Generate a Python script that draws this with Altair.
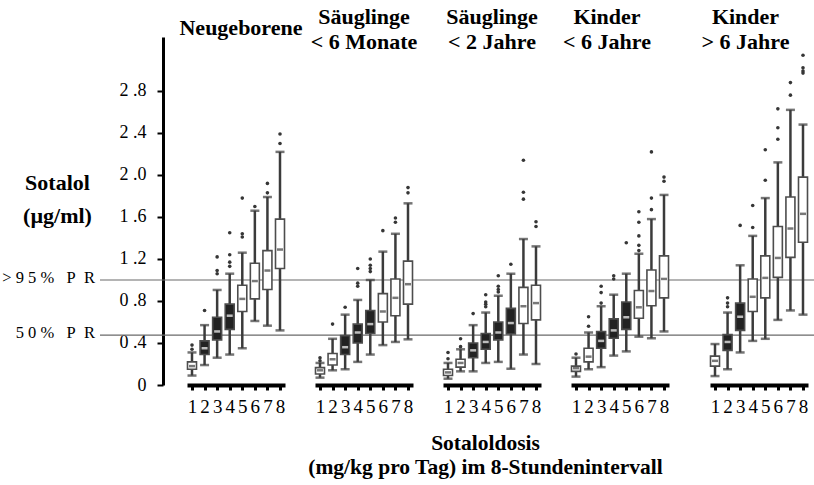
import altair as alt
import pandas as pd

# ---------------- data ----------------
group_titles = [["Neugeborene"], ["Säuglinge", "< 6 Monate"], ["Säuglinge", "< 2 Jahre"],
                ["Kinder", "< 6 Jahre"], ["Kinder", "> 6 Jahre"]]
doses = [1, 2, 3, 4, 5, 6, 7, 8]
y_ticks = [0, 0.4, 0.8, 1.2, 1.6, 2.0, 2.4, 2.8]
ref_values = [1.0, 0.475]
NB = "\u00a0"
ref_labels = [NB.join([">", "9", "5", "%"]) + NB * 3 + "P" + NB * 2 + "R",
              NB.join(["5", "0", "%"]) + NB * 3 + "P" + NB * 2 + "R"]

whisker_low = [
    [0.09, 0.19, 0.26, 0.29, 0.35, 0.61, 0.565, 0.52],
    [0.07, 0.14, 0.15, 0.22, 0.29, 0.38, 0.41, 0.435],
    [0.06, 0.13, 0.13, 0.21, 0.22, 0.155, 0.29, 0.20],
    [0.08, 0.15, 0.17, 0.28, 0.32, 0.46, 0.445, 0.51],
    [0.085, 0.15, 0.31, 0.42, 0.44, 0.62, 0.71, 0.67],
]
q1 = [
    [0.15, 0.29, 0.43, 0.53, 0.70, 0.82, 0.91, 1.11],
    [0.105, 0.19, 0.29, 0.40, 0.49, 0.60, 0.66, 0.77],
    [0.09, 0.17, 0.26, 0.34, 0.43, 0.485, 0.585, 0.62],
    [0.13, 0.22, 0.35, 0.445, 0.53, 0.635, 0.755, 0.83],
    [0.18, 0.33, 0.52, 0.70, 0.83, 1.025, 1.215, 1.36],
]
median = [
    [0.18, 0.35, 0.51, 0.66, 0.82, 0.99, 1.09, 1.29],
    [0.14, 0.245, 0.36, 0.50, 0.58, 0.70, 0.83, 0.96],
    [0.12, 0.21, 0.33, 0.41, 0.50, 0.59, 0.75, 0.78],
    [0.16, 0.27, 0.42, 0.52, 0.645, 0.74, 0.895, 1.01],
    [0.23, 0.41, 0.65, 0.84, 1.02, 1.21, 1.49, 1.63],
]
q3 = [
    [0.22, 0.42, 0.645, 0.77, 0.95, 1.16, 1.28, 1.58],
    [0.165, 0.30, 0.47, 0.58, 0.71, 0.87, 1.01, 1.18],
    [0.15, 0.245, 0.40, 0.49, 0.60, 0.73, 0.93, 0.95],
    [0.18, 0.35, 0.51, 0.63, 0.79, 0.90, 1.095, 1.23],
    [0.275, 0.48, 0.78, 1.01, 1.23, 1.51, 1.79, 1.98],
]
whisker_high = [
    [0.31, 0.57, 0.905, 1.06, 1.26, 1.66, 1.79, 2.22],
    [0.21, 0.44, 0.67, 0.81, 1.00, 1.27, 1.44, 1.73],
    [0.21, 0.34, 0.57, 0.69, 0.85, 1.06, 1.39, 1.32],
    [0.26, 0.50, 0.75, 0.86, 1.06, 1.25, 1.58, 1.81],
    [0.39, 0.69, 1.14, 1.42, 1.78, 2.12, 2.62, 2.48],
]
outliers = [
    [[0.34, 0.38], [0.71], [1.06, 1.09, 1.22], [1.13, 1.17, 1.24, 1.45], [1.41, 1.44, 1.78],
     [1.70], [1.83, 1.92], [2.30, 2.39]],
    [[0.23, 0.26], [0.58], [0.74], [0.94, 0.97, 1.11], [1.08, 1.11, 1.14, 1.20], [1.47],
     [1.55, 1.59], [1.83, 1.88]],
    [[0.25, 0.31], [0.365, 0.44], [0.68], [0.745, 0.77, 0.79, 0.86], [0.885, 0.91, 0.94, 1.04],
     [1.15], [1.77, 1.835, 2.14], [1.51, 1.555]],
    [[0.295], [0.56, 0.65], [0.78, 0.88, 0.94], [1.01, 1.04], [1.355],
     [1.28, 1.33, 1.42, 1.55, 1.65], [1.67, 1.78, 2.22], [1.94, 1.98]],
    [[], [0.745, 0.78, 0.83], [1.52], [1.50, 1.71], [1.95, 2.24], [2.34, 2.45, 2.63],
     [2.76, 2.88], [2.97, 2.99, 3.02, 3.14]],
]
dark_boxes = [[2, 3, 4], [3, 4, 5], [3, 4, 5, 6], [3, 4, 5], [2, 3]]

# ---------------- styling ----------------
SERIF = "Liberation Serif"
Y_MAX = 3.314
PLOT_H = 348
WHISK = "#3b3b3b"
title_dx = [5, 0, 0, -13, -8]
title_offset = [-2, -16, -16, -16, -16]
TITLE_DY = 23


def panel(g):
    rows = []
    for k, d in enumerate(doses):
        rows.append(dict(dose=d, low=whisker_low[g][k], q1=q1[g][k], med=median[g][k],
                         q3=q3[g][k], high=whisker_high[g][k],
                         kind="dark" if d in dark_boxes[g] else "open"))
    box_df = pd.DataFrame(rows)
    out_df = pd.DataFrame([dict(dose=d, v=v) for k, d in enumerate(doses) for v in outliers[g][k]])

    width = 109 if g == 4 else 98
    if g == 4:
        xs = alt.Scale(domain=[1, 8], nice=False, zero=False, range=[11, 109])
    else:
        xs = alt.Scale(domain=[1, 8], nice=False, zero=False)

    xaxis_kw = dict(values=doses, format="d", domainWidth=4, domainColor="black",
                    tickColor="black", tickWidth=3, tickSize=5, labelFont=SERIF,
                    labelFontSize=19, labelPadding=7, labelColor="black", labelFlush=False,
                    labelOverlap=False, grid=False)
    if g == 2:
        xaxis = alt.Axis(title=["Sotaloldosis", "(mg/kg pro Tag) im 8-Stundenintervall"],
                         titleFont=SERIF, titleFontSize=21.5, titleFontWeight="bold",
                         titleColor="black", titleAlign="center", titleBaseline="alphabetic",
                         titleX=42, titleY=64, titleLineHeight=24, **xaxis_kw)
    else:
        xaxis = alt.Axis(title=None, **xaxis_kw)

    ys = alt.Scale(domain=[0, Y_MAX], nice=False, zero=True)
    if g == 0:
        yaxis = alt.Axis(values=y_ticks, offset=24, domainWidth=3, domainColor="black",
                         tickColor="black", tickWidth=2, tickSize=6, labelFont=SERIF,
                         labelFontSize=18, labelPadding=11, labelColor="black",
                         labelExpr="datum.value == 0 ? '0' : floor(datum.value + 0.001) + '" + NB + ".' + round((datum.value * 10) % 10)",
                         grid=False,
                         title=["Sotalol", "(µg/ml)"], titleAngle=0, titleFont=SERIF,
                         titleFontSize=22, titleFontWeight="bold", titleColor="black",
                         titleAlign="center", titleBaseline="alphabetic",
                         titleX=-106, titleY=152, titleLineHeight=33)
    else:
        yaxis = None

    def X():
        return alt.X("dose:Q", scale=xs, axis=xaxis)

    def Y(f):
        return alt.Y(f, scale=ys, axis=yaxis)

    base = alt.Chart(box_df)
    whisk = base.mark_rule(color=WHISK, strokeWidth=2.5).encode(x=X(), y=Y("low:Q"), y2="high:Q")
    cap_lo = base.mark_tick(orient="horizontal", color=WHISK, size=9, thickness=2.5).encode(
        x=X(), y=Y("low:Q"))
    cap_hi = base.mark_tick(orient="horizontal", color=WHISK, size=9, thickness=2.5).encode(
        x=X(), y=Y("high:Q"))
    box = base.mark_bar(size=9, stroke="#4d4d4d", strokeWidth=1.6).encode(
        x=X(), y=Y("q1:Q"), y2="q3:Q",
        fill=alt.Fill("kind:N", scale=alt.Scale(domain=["dark", "open"], range=["#222222", "#ffffff"]),
                      legend=None))
    med = base.mark_tick(orient="horizontal", size=6, thickness=2.5).encode(
        x=X(), y=Y("med:Q"),
        color=alt.Color("kind:N", scale=alt.Scale(domain=["dark", "open"], range=["#ffffff", "#3d3d3d"]),
                        legend=None))
    pts = alt.Chart(out_df).mark_circle(size=13, color="#363636", opacity=1).encode(
        x=X(), y=Y("v:Q"))

    layers = [whisk, cap_lo, cap_hi, box, med, pts]
    if g == 0:
        ref_df = pd.DataFrame({"v": ref_values, "label": ref_labels})
        rule = alt.Chart(ref_df).mark_rule(color="#6a6a6a", strokeWidth=1.2).encode(
            y=Y("v:Q"), x=alt.value(-87), x2=alt.value(640))
        txt = alt.Chart(ref_df).mark_text(align="right", baseline="middle", dy=-2, font=SERIF,
                                          fontSize=16.5, color="black").encode(
            y=Y("v:Q"), x=alt.value(-92), text="label:N")
        layers = [rule, txt] + layers

    return alt.layer(*layers).properties(
        width=width, height=PLOT_H,
        title=alt.TitleParams(text=group_titles[g], font=SERIF, fontSize=22, fontWeight="bold",
                              color="black", anchor="middle", frame="group", baseline="bottom",
                              offset=title_offset[g], dx=title_dx[g], dy=TITLE_DY, lineHeight=25))


chart = alt.hconcat(*[panel(g) for g in range(5)], spacing=30, bounds="flush").properties(
    autosize=alt.AutoSizeParams(type="none"),
    padding={"left": 187, "top": 37, "right": 627, "bottom": 448},
).configure_view(strokeWidth=0)

chart.save("out.html", embed_options={"renderer": "svg", "actions": False})
